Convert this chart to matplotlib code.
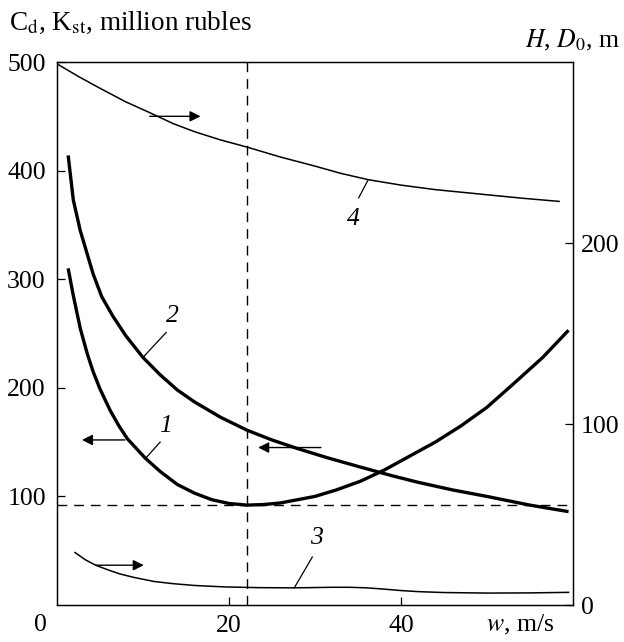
import matplotlib
matplotlib.use('Agg')
import matplotlib.pyplot as plt

plt.rcParams['font.family'] = ['Liberation Serif', 'DejaVu Serif']
plt.rcParams['mathtext.fontset'] = 'stix'

# curve 1 - C_d (left axis)
w1 = [1.3, 1.9, 2.7, 3.5, 4.2, 5, 6.2, 7.2, 8.2, 10.3, 12, 14, 16, 18, 20, 22.1,
      24, 26, 28, 30, 32.5, 35.3, 38, 41, 44, 47, 50, 53, 56.5, 59.5]
c1 = [310, 285, 255, 232, 215, 199, 179, 165, 153, 135, 123, 111, 103, 97, 93.5, 92,
      92.5, 94, 97, 100, 106, 114, 124, 137, 150, 165, 182, 203, 228, 253]
# curve 2 - K_st (left axis)
w2 = [1.3, 1.9, 2.7, 4.2, 5.2, 6.5, 8, 10, 12, 14, 16, 19, 22.1, 25, 28, 31.5, 35.3,
      39, 42, 46, 50, 55, 59.5]
c2 = [414, 373, 345, 305, 284, 266, 248, 228, 212, 198, 187, 173, 161, 152, 144, 135.5, 127,
      119, 113, 106, 100, 92, 86]
# curve 3 - D0 (right axis)
w3 = [2.1, 3.3, 4.5, 6, 7.3, 9, 11.3, 13.5, 16, 19.5, 23.4, 27, 29.4, 32, 34, 36,
      38, 40, 42, 45, 50, 55, 59.5]
h3 = [29, 25, 22, 19.3, 17.2, 15.2, 13, 11.8, 10.8, 10, 9.6, 9.5, 9.6, 9.8, 9.8, 9.5,
      8.8, 8, 7.4, 6.9, 6.6, 6.7, 7]
# curve 4 - H (right axis)
w4 = [0, 2.5, 5, 8, 10.8, 13.5, 16, 19, 22.1, 26, 30, 33, 36.2, 40, 44, 49.3, 54, 58.4]
h4 = [299, 292, 285.5, 278, 272, 266, 261.5, 257, 253, 247.5, 242.5, 238.5, 235, 232, 229.5, 227,
      224.8, 223]

w_opt = 22.1
c_opt = 92

fig = plt.figure(figsize=(6.24, 6.42), dpi=100)
ax = fig.add_axes([0.0913, 0.0576, 0.8267, 0.8458])
ax2 = ax.twinx()

ax.plot(w1, c1, color='k', lw=2.4, solid_capstyle='butt')
ax.plot(w2, c2, color='k', lw=2.4, solid_capstyle='butt')
ax2.plot(w3, h3, color='k', lw=1.1)
ax2.plot(w4, h4, color='k', lw=1.1)

ax.axvline(w_opt, color='k', lw=1, dashes=(7, 5))
ax.axhline(c_opt, color='k', lw=1, dashes=(7, 5))

ax.set_xlim(0, 60)
ax.set_ylim(0, 500)
ax2.set_ylim(0, 300)

fs = 18.5
ax.set_xticks([20, 40])
ax.set_xticklabels(['20', '40'])
ax.set_yticks([100, 200, 300, 400, 500])
ax2.set_yticks([0, 100, 200])
ax.tick_params(axis='x', direction='in', length=6, width=0.9, labelsize=fs, pad=7)
ax.tick_params(axis='y', direction='in', length=6, width=0.9, labelsize=fs, pad=8)
ax2.tick_params(axis='y', direction='in', length=6, width=0.9, labelsize=fs, pad=6)
for a in (ax, ax2):
    for s in a.spines.values():
        s.set_linewidth(0.9)

# arrows pointing to the axis each curve belongs to
arr = dict(arrowstyle='-|>', color='k', lw=1, mutation_scale=16, shrinkA=0, shrinkB=0)
ax.annotate('', xy=(2.9, 152), xytext=(7.9, 152), arrowprops=arr)
ax.annotate('', xy=(23.4, 145), xytext=(30.7, 145), arrowprops=arr)
ax2.annotate('', xy=(16.7, 270), xytext=(10.8, 270), arrowprops=arr)
ax2.annotate('', xy=(10.1, 22), xytext=(4.5, 22), arrowprops=arr)

# curve numbers with leader lines
ax.plot([12, 10.3], [150, 135], color='k', lw=0.9)
ax.text(12.6, 165, '1', fontsize=fs, style='italic', ha='center', va='center')
ax.plot([12.7, 10], [251, 228], color='k', lw=0.9)
ax.text(13.4, 266, '2', fontsize=fs, style='italic', ha='center', va='center')
ax2.plot([29.7, 27.6], [26.5, 9.5], color='k', lw=0.9)
ax2.text(30.2, 37, '3', fontsize=fs, style='italic', ha='center', va='center')
ax2.plot([35.1, 36.2], [225, 235], color='k', lw=0.9)
ax2.text(34.5, 213, '4', fontsize=fs, style='italic', ha='center', va='center')

fig.text(0.014, 0.965, r'C$_{\rm d}$, K$_{\rm st}$, million rubles', fontsize=19.5,
         ha='left', va='center')
fig.text(0.994, 0.937, r'$H$, $D_0$, m', fontsize=fs, ha='right', va='center')
fig.text(40 / 624, 1 - 625 / 642, '0', fontsize=fs, ha='center', va='center')
fig.text(520 / 624, 1 - 625 / 642, r'$w$, m/s', fontsize=fs, ha='center', va='center')

fig.savefig('out.png', dpi=100)
